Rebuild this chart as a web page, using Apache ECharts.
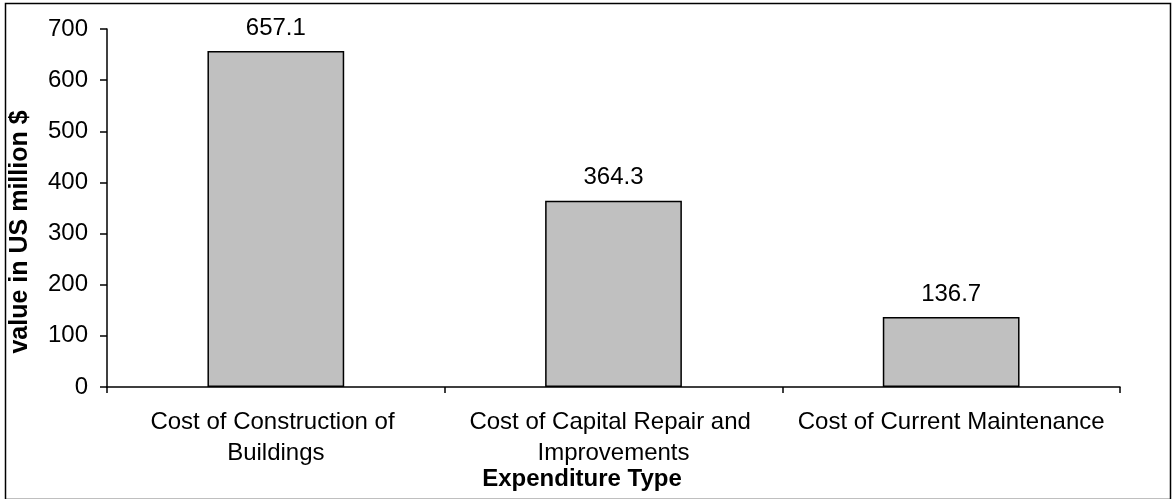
<!DOCTYPE html>
<html>
<head>
<meta charset="utf-8">
<script src="https://cdn.jsdelivr.net/npm/echarts@6/dist/echarts.min.js"></script>
<style>
  html, body { margin: 0; padding: 0; background: #fff; }
  #chart { width: 1172px; height: 499px; }
</style>
</head>
<body>
<div id="chart"></div>
<script>
// chart data
const categories = [
  'Cost of Construction of Buildings',
  'Cost of Capital Repair and Improvements',
  'Cost of Current Maintenance'
]
const values = [657.1, 364.3, 136.7]
const yTicks = { min: 0, max: 700, interval: 100 }

const font = '"Liberation Sans", Arial, sans-serif'

const chart = echarts.init(document.getElementById('chart'))
const option = {
  animation: false,
  backgroundColor: '#fff',
  grid: {
    left: 107,
    right: 52,
    top: 29,
    bottom: 112
  },
  xAxis: {
    type: 'category',
    data: categories,
    axisLine: { show: true, lineStyle: { color: '#000', width: 1.5 } },
    axisTick: { show: true, inside: false, length: 6, lineStyle: { color: '#000', width: 1.5 } },
    axisLabel: {
      color: '#000',
      fontFamily: font,
      fontSize: 24,
      lineHeight: 31,
      margin: 20,
      width: 330,
      overflow: 'break',
      interval: 0
    }
  },
  yAxis: {
    type: 'value',
    min: yTicks.min,
    max: yTicks.max,
    interval: yTicks.interval,
    axisLine: { show: true, lineStyle: { color: '#000', width: 1.5 } },
    axisTick: { show: true, length: 7, lineStyle: { color: '#000', width: 1.5 } },
    splitLine: { show: false },
    axisLabel: {
      color: '#000',
      fontFamily: font,
      fontSize: 24,
      margin: 19
    }
  },
  series: [
    {
      type: 'bar',
      data: values,
      barWidth: '40.5%',
      itemStyle: {
        color: '#c0c0c0',
        borderColor: '#000',
        borderWidth: 1.5
      },
      label: {
        show: true,
        position: 'top',
        distance: 11,
        color: '#000',
        fontFamily: font,
        fontSize: 24,
        formatter: p => p.value.toFixed(1)
      }
    }
  ],
  graphic: [
    {
      type: 'rect',
      left: 3,
      top: 1,
      shape: { width: 1165, height: 496 },
      style: { fill: 'none', stroke: '#000', lineWidth: 1.5 },
      silent: true
    },
    {
      type: 'text',
      x: 20,
      y: 232,
      rotation: Math.PI / 2,
      style: {
        text: 'value in US million $',
        font: 'bold 25px ' + font,
        fill: '#000',
        align: 'center',
        verticalAlign: 'middle'
      }
    },
    {
      type: 'text',
      x: 582,
      y: 479,
      style: {
        text: 'Expenditure Type',
        font: 'bold 24px ' + font,
        fill: '#000',
        align: 'center',
        verticalAlign: 'middle'
      }
    }
  ]
}
chart.setOption(option)
</script>
</body>
</html>
